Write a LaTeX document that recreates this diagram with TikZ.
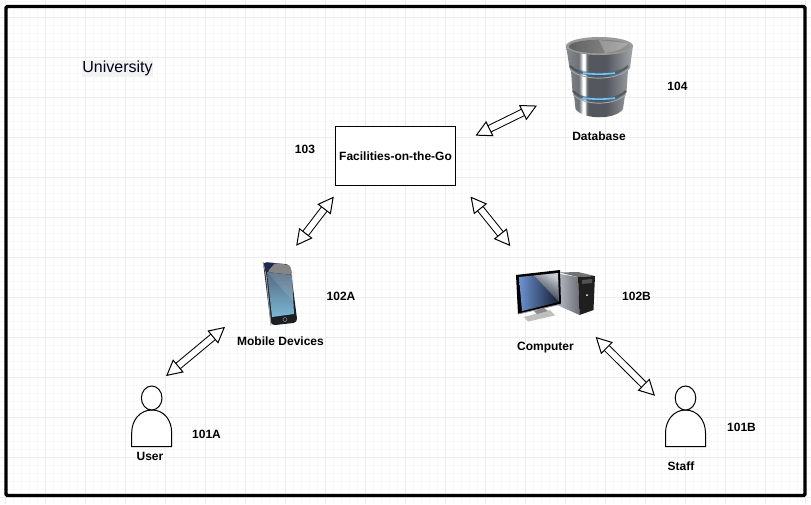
\documentclass[tikz,border=0pt]{standalone}
\usepackage{fontspec}
\setmainfont{Liberation Sans}
\usetikzlibrary{arrows.meta}
\definecolor{dbA}{HTML}{85888C}
\definecolor{dbB}{HTML}{6E7175}
\definecolor{dbC}{HTML}{54575D}
\definecolor{dbD}{HTML}{A4A7AB}
\pgfdeclarehorizontalshading{dbbody}{100bp}{
  color(0bp)=(dbA); color(25bp)=(dbA); color(34.5bp)=(dbB);
  color(36bp)=(dbB!60!white); color(37.5bp)=(white); color(39bp)=(white); color(40.5bp)=(dbB); color(42bp)=(dbC);
  color(55bp)=(dbC); color(75bp)=(dbD); color(100bp)=(dbD)}
\definecolor{gridminor}{HTML}{F8F8F8}
\definecolor{gridmajor}{HTML}{ECECEC}
\definecolor{glowdark}{HTML}{2E6FA3}
\definecolor{glowlight}{HTML}{86CDF5}
\definecolor{phonebody}{HTML}{1C1E23}
\definecolor{phonenavy}{HTML}{1E2A4C}
\definecolor{scrtop}{HTML}{56697F}
\definecolor{scrmid}{HTML}{4F7599}
\definecolor{scrbot}{HTML}{79B8D6}
\definecolor{monblue}{HTML}{6C93D0}
\definecolor{monnavy}{HTML}{141C30}
\definecolor{monlight}{HTML}{C8CCD2}
\definecolor{towerL}{HTML}{B8BBC4}
\definecolor{towerR}{HTML}{6C6F78}
\tikzset{
  x=0.75pt, y=-0.75pt,
  lbl/.style={font=\bfseries\fontsize{9pt}{10pt}\selectfont, text=black, inner sep=0pt, outer sep=0pt},
  iconbox/.style={inner sep=0pt, outer sep=0pt, rectangle},
  flow/.style={draw=black, line width=0.75pt, double=white, double distance=4.4pt,
    {Triangle[open,fill=white,line width=0.75pt,length=12pt,width=12.5pt]}-{Triangle[open,fill=white,line width=0.75pt,length=12pt,width=12.5pt]}},
  personline/.style={draw=black, line width=0.75pt, fill=white},
}
\begin{document}
\begin{tikzpicture}
\useasboundingbox (0,0) rectangle (811,504);
\fill[white] (0,0) rectangle (811,504);
% grid
\foreach \i in {0,...,101} {\draw[gridminor,line width=0.6pt] ({5+8*\i},0) -- ({5+8*\i},504);}
\foreach \i in {0,...,63} {\draw[gridminor,line width=0.6pt] (0,{1+8*\i}) -- (811,{1+8*\i});}
\foreach \i in {0,...,20} {\draw[gridmajor,line width=0.75pt] ({5+40*\i},0) -- ({5+40*\i},504);}
\foreach \i in {0,...,12} {\draw[gridmajor,line width=0.75pt] (0,{17+40*\i}) -- (811,{17+40*\i});}
% frame
\draw[black,line width=2.6pt,rounded corners=1pt] (6,6.5) rectangle (805,495.5);

% University
\node[font=\fontsize{12pt}{14pt}\selectfont, fill=gridmajor!70!white, inner xsep=0.4pt, inner ysep=0.6pt, text=black!90!blue] (univ) at (117.5,68.7) {University};

% main box
\node[draw=black,line width=0.75pt,fill=white,minimum width=90pt,minimum height=44.25pt,inner sep=0pt,outer sep=0pt,
  font=\bfseries\fontsize{9pt}{10pt}\selectfont] (fac) at (395.5,156) {Facilities-on-the-Go};

% invisible icon nodes
\node[iconbox,minimum width=51pt,minimum height=60pt] (db) at (599,76) {};
\node[iconbox,minimum width=27.75pt,minimum height=48.75pt] (phone) at (280.5,293.5) {};
\node[iconbox,minimum width=60.75pt,minimum height=39pt] (comp) at (555.5,296) {};
\node[iconbox,minimum width=30pt,minimum height=45.75pt] (user) at (152,416.5) {};
\node[iconbox,minimum width=30pt,minimum height=45.75pt] (staff) at (686,416.5) {};

% database icon
\shade[shading=dbbody] (566,45) -- (569.5,68) -- (571,70) -- (572.5,92) -- (574,95) -- (575.5,109) .. controls (583,120) and (616,120) .. (623,109) -- (625,95) -- (626.5,92) -- (628,70) -- (630,68) -- (633,45) -- cycle;
% upper joint
\draw[black!72!white,line width=1.6pt,opacity=.7] (570,66) .. controls (582,78) and (616,78) .. (628,66);
\draw[glowdark,line width=3pt,opacity=.45] (578,71) .. controls (588,75.5) and (610,75.5) .. (620,71);
\draw[glowlight,line width=1.2pt,opacity=.9] (583,73) .. controls (592,74.5) and (606,74.5) .. (615,73);
\draw[black!35!white,line width=.7pt] (570,69.5) .. controls (582,81) and (616,81) .. (628,69.5);
% lower joint
\draw[black!72!white,line width=1.6pt,opacity=.7] (573,91) .. controls (584,103) and (614,103) .. (626,91);
\draw[glowdark,line width=3pt,opacity=.45] (579,96.5) .. controls (589,100.5) and (609,100.5) .. (619,96.5);
\draw[glowlight,line width=1.2pt,opacity=.9] (583,98) .. controls (592,99.5) and (606,99.5) .. (615,98);
\draw[black!35!white,line width=.7pt] (573,94.5) .. controls (584,106) and (614,106) .. (626,94.5);
% rim and top
\fill[black!40!white] (599.5,46) ellipse [x radius=33.5, y radius=9];
\shade[left color=black!62!white,right color=black!42!white] (599.5,46.5) ellipse [x radius=30.5, y radius=6.8];
\fill[white,opacity=.22] (599,40) -- (628,43.5) .. controls (622,50) and (612,52.5) .. (605,53) -- cycle;

% phone icon
\fill[phonebody, rounded corners=3pt] (263,262) -- (290,264.5) -- (297.5,322.5) -- (271,325.5) -- cycle;
\draw[black!40!white,line width=.7pt, rounded corners=3pt] (263,262) -- (266,274) -- (271,325.5);
\fill[black!48!white, rounded corners=2pt] (274,263) -- (290,265) -- (292.5,275) -- (267,272) -- cycle;
\fill[phonenavy, rounded corners=1pt] (264,262.5) -- (275,263) -- (267,272) -- (265.5,272) -- cycle;
\shade[top color=scrtop, middle color=scrmid, bottom color=scrbot] (267,272) -- (292,275) -- (294,314) -- (272,317) -- cycle;
\fill[white,opacity=.12] (267,272) -- (292,275) -- (293,301) -- cycle;
\draw[black!55!white,line width=.5pt] (285,319.5) circle [radius=2];

% computer icon
\fill[black!25!white] (524,317) -- (528,321.5) -- (555,315.5) -- (550,310) -- cycle;
\fill[black!45!white] (534,311) -- (544,308) -- (548,311) -- (537,314) -- cycle;
\shade[left color=towerL,right color=towerR] (560,274) -- (578,277) -- (579.5,315) -- (557,305) -- cycle;
\fill[black!55!white] (560,272.5) -- (578,272) -- (595,276) -- (578,277) -- cycle;
\fill[black!88!white] (578,277) -- (595,276) -- (593.5,310) -- (579.5,315) -- cycle;
\fill[black!68!white] (582,280) -- (592,279) -- (592,283) -- (582,284) -- cycle;
\fill[white] (587,295) circle [radius=1];
\fill[black] (516,275) -- (560,270) -- (561,304) -- (518,314) -- cycle;
\draw[black!45!white,line width=.6pt] (518,314) -- (561,304);
\shade[left color=monblue,right color=monnavy] (519,277) -- (558,273) -- (559,302) -- (522,311) -- cycle;
\shade[top color=monlight,bottom color=monnavy,shading angle=-30] (534,275.5) -- (558,273) -- (559,302) -- cycle;

% persons
\draw[personline] (131.7,446.5) -- (131.7,433) .. controls (131.7,420) and (140,410) .. (152,410) .. controls (164,410) and (171.7,420) .. (171.7,433) -- (171.7,446.5) -- cycle;
\draw[personline] (151.7,398) ellipse [x radius=10.3, y radius=12];
\draw[personline] (665.5,446.5) -- (665.5,433) .. controls (665.5,420) and (674,410) .. (685.5,410) .. controls (697,410) and (705.5,420) .. (705.5,433) -- (705.5,446.5) -- cycle;
\draw[personline] (685.5,398) ellipse [x radius=10.3, y radius=12];

% labels
\node[lbl] (lbl104) at (677.5,86) {104};
\node[lbl] (lbl103) at (305,149) {103};
\node[lbl] (lbl102a) at (341,296) {102A};
\node[lbl] (lbl102b) at (636.5,296) {102B};
\node[lbl] (lbl101a) at (206.5,434) {101A};
\node[lbl] (lbl101b) at (741.5,427) {101B};
\node[lbl] (lbldb) at (599,136) {Database};
\node[lbl] (lblmob) at (280.5,341) {Mobile Devices};
\node[lbl] (lblcomp) at (545.5,347.5) {Computer};
\node[lbl] (lbluser) at (150,456) {User};
\node[lbl] (lblstaff) at (681,466) {Staff};

% connectors
\draw[flow,shorten <=16.7pt,shorten >=23.4pt] (fac.10) -- (db.205.5);
\draw[flow,shorten <=10.5pt,shorten >=14.4pt] (fac.209.4) -- (phone.83.9);
\draw[flow,shorten <=18pt,shorten >=23pt] (fac.340.1) -- (comp.135.4);
\draw[flow,shorten <=36.1pt,shorten >=11.7pt] (phone.188.6) -- (user.86.2);
\draw[flow,shorten <=15.9pt,shorten >=11.7pt] (comp.314) -- (staff.154.6);
\end{tikzpicture}
\end{document}
